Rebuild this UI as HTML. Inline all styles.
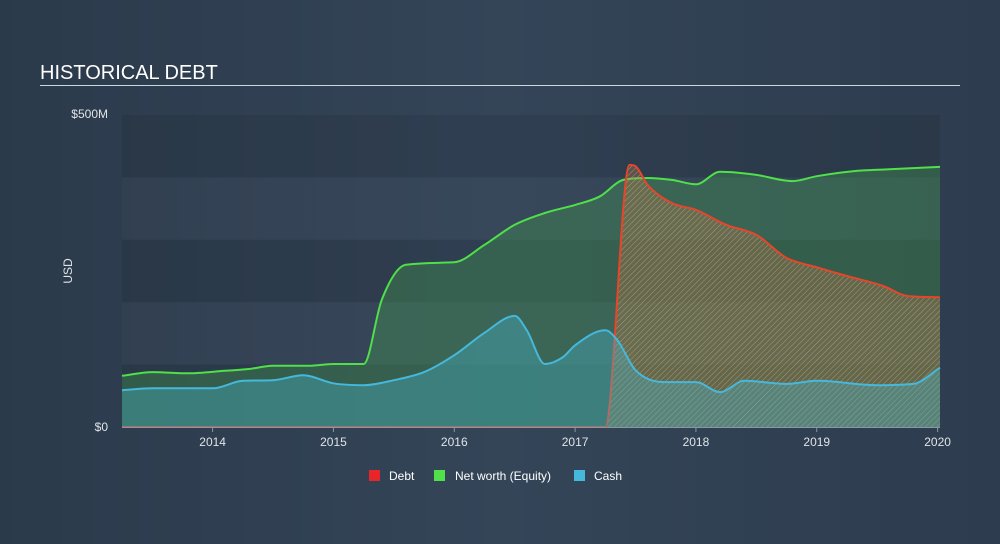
<!DOCTYPE html>
<html><head><meta charset="utf-8"><style>
html,body{margin:0;padding:0;width:1000px;height:544px;overflow:hidden;font-family:"Liberation Sans",sans-serif;}
body{background:linear-gradient(90deg,#2b3a4b 0%,#344558 50%,#2d3c4e 100%);}
</style></head><body>
<svg width="1000" height="544" xmlns="http://www.w3.org/2000/svg">
<defs>
<pattern id="hatch" patternUnits="userSpaceOnUse" width="4" height="4" patternTransform="rotate(45)">
<rect width="4" height="4" fill="rgba(190,120,70,0.35)"/>
<line x1="0" y1="0" x2="0" y2="4" stroke="rgba(230,200,170,0.5)" stroke-width="1"/>
</pattern>
</defs>
<text x="40" y="79" fill="#fff" font-size="20">HISTORICAL DEBT</text>
<line x1="40" y1="85.5" x2="960" y2="85.5" stroke="#cfd6de" stroke-width="1"/>
<g id="bands"></g>
<g id="series"></g>
<text x="108" y="118" fill="#e0e4e8" font-size="12" text-anchor="end">$500M</text>
<text x="108" y="431" fill="#e0e4e8" font-size="12" text-anchor="end">$0</text>
<text x="72" y="271" fill="#e0e4e8" font-size="12" text-anchor="middle" transform="rotate(-90 72 271)">USD</text>
<g id="xticks"></g>
<g>
<rect x="369" y="470" width="11" height="11" fill="#e8262a"/>
<text x="389" y="480" fill="#fff" font-size="12">Debt</text>
<rect x="434" y="470" width="11" height="11" fill="#4fe04a"/>
<text x="455" y="480" fill="#fff" font-size="12">Net worth (Equity)</text>
<rect x="574" y="470" width="11" height="11" fill="#45b8dc"/>
<text x="594" y="480" fill="#fff" font-size="12">Cash</text>
</g>
</svg>
<script>
const equityT=[2013.25,2013.5,2013.8,2014.1,2014.3,2014.5,2014.8,2015,2015.25,2015.4,2015.6,2016,2016.25,2016.5,2016.75,2017,2017.2,2017.4,2017.6,2017.8,2018,2018.2,2018.5,2018.8,2019,2019.3,2019.6,2020.02];
const equityV=[82,88,86,90,93,98,98,101,101,204,260,264,292,324,343,356,369,396,399,396,389,409,404,394,402,410,413,417];
const debtT=[2013.25,2017.25,2017.45,2017.5,2017.6,2017.8,2018,2018.25,2018.5,2018.75,2019,2019.25,2019.55,2019.75,2020.02];
const debtV=[0,0,420,418,388,359,348,324,308,271,256,242,226,210,208];
const cashT=[2013.25,2013.5,2014,2014.25,2014.5,2014.75,2015,2015.25,2015.5,2015.75,2016,2016.25,2016.5,2016.6,2016.75,2016.9,2017,2017.25,2017.35,2017.5,2017.75,2018,2018.2,2018.4,2018.75,2019,2019.5,2019.8,2020.02];
const cashV=[59,62,62,74,75,83,70,67,75,88,115,151,178,155,101,112,131,155,139,91,72,72,56,74,69,74,67,69,95];
const xTicks=[2014,2015,2016,2017,2018,2019,2020];
const NS="http://www.w3.org/2000/svg";
const X0=122,X1=940,Y0=427,Y1=115,T0=2013.25,T1=2020.02,VMAX=500;
const xs=t=>X0+(t-T0)/(T1-T0)*(X1-X0);
const ys=v=>Y0-v/VMAX*(Y0-Y1);
function mk(tag,attrs,parent){const e=document.createElementNS(NS,tag);for(const k in attrs)e.setAttribute(k,attrs[k]);parent.appendChild(e);return e;}
const bands=document.getElementById('bands');
for(let i=0;i<5;i++){
 const r=mk('rect',{x:X0,y:ys(VMAX-(i)*100),width:X1-X0,height:(Y0-Y1)/5,fill:i%2?'rgba(255,255,255,0.02)':'rgba(0,0,0,0.08)'},bands);
 
 
}
const g=document.getElementById('series');
// monotone cubic path
function smooth(T,V){
 const P=T.map((t,i)=>[xs(t),ys(V[i])]);const n=P.length;
 const d=[],m=[];
 for(let i=0;i<n-1;i++)d.push((P[i+1][1]-P[i][1])/(P[i+1][0]-P[i][0]));
 m[0]=d[0];m[n-1]=d[n-2];
 for(let i=1;i<n-1;i++)m[i]=(d[i-1]*d[i]<=0)?0:(d[i-1]+d[i])/2;
 for(let i=0;i<n-1;i++){if(d[i]===0){m[i]=0;m[i+1]=0;continue;}const a=m[i]/d[i],b=m[i+1]/d[i],s=a*a+b*b;if(s>9){const tt=3/Math.sqrt(s);m[i]=tt*a*d[i];m[i+1]=tt*b*d[i];}}
 let s='M'+P[0][0].toFixed(1)+','+P[0][1].toFixed(1);
 for(let i=0;i<n-1;i++){const h=(P[i+1][0]-P[i][0])/3;
  s+=' C'+(P[i][0]+h).toFixed(1)+','+(P[i][1]+m[i]*h).toFixed(1)+' '+(P[i+1][0]-h).toFixed(1)+','+(P[i+1][1]-m[i+1]*h).toFixed(1)+' '+P[i+1][0].toFixed(1)+','+P[i+1][1].toFixed(1);}
 return s;
}
function series(T,V,fill,stroke,name){
 const c=smooth(T,V);
 const area=mk('path',{d:c+' L'+xs(T[T.length-1])+','+Y0+' L'+xs(T[0])+','+Y0+' Z',fill:fill},g);
 
 
 const line=mk('path',{d:c,fill:'none',stroke:stroke,'stroke-width':2,'stroke-linejoin':'round'},g);
 
 
}
series(equityT,equityV,'rgba(70,160,80,0.35)','#4fe04a','equity');
series(debtT,debtV,'url(#hatch)','#e8452a','debt');
series(cashT,cashV,'rgba(70,180,200,0.38)','#45b8dc','cash');
const axis=mk('line',{x1:X0,y1:Y0+0.5,x2:X1,y2:Y0+0.5,stroke:'#8a96a3','stroke-width':1},g);


const xt=document.getElementById('xticks');
xTicks.forEach(t=>{
 const l=mk('line',{x1:xs(t),y1:Y0,x2:xs(t),y2:Y0+5,stroke:'#8a96a3'},xt);
 
 
 const tx=mk('text',{x:xs(t),y:446,fill:'#e0e4e8','font-size':12,'text-anchor':'middle'},xt);
 tx.textContent=t;
 
 
});
</script>
</body></html>
